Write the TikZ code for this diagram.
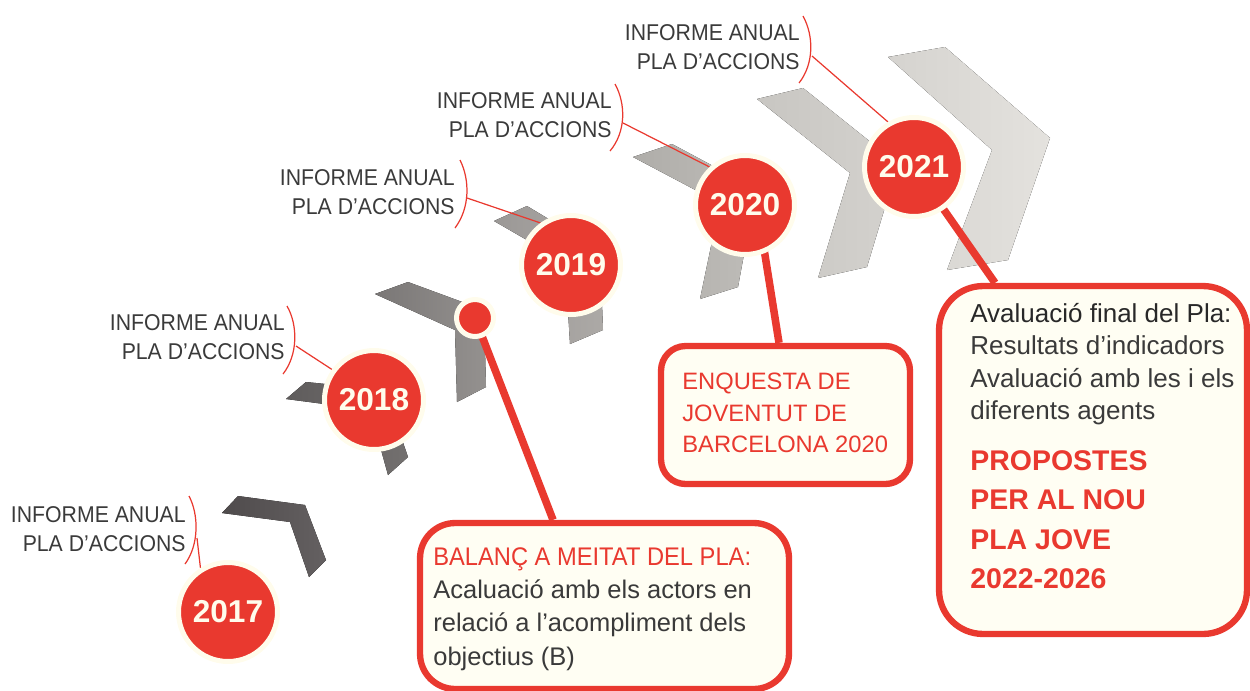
\documentclass[tikz,border=0pt]{standalone}
\usepackage{fontspec}
\setmainfont{Liberation Sans}
\newfontfamily\narrowfont[FakeStretch=0.93]{Liberation Sans}
\usetikzlibrary{backgrounds}
\definecolor{jred}{RGB}{233,57,47}
\definecolor{cream}{RGB}{255,252,236}
\definecolor{boxfill}{RGB}{255,254,243}
\definecolor{tgrey}{RGB}{58,58,58}
\definecolor{tdark}{RGB}{40,40,40}
\begin{document}
\begin{tikzpicture}[x=0.02cm,y=-0.02cm,
  yearc/.style={circle, fill=jred, draw=cream, line width=2.85pt, minimum size=1.98cm, inner sep=0pt, text=cream, font=\fontsize{18}{20}\selectfont\bfseries},
  dotc/.style={circle, fill=jred, draw=cream, line width=2.85pt, minimum size=0.74cm, inner sep=0pt},
  lbl/.style={anchor=east, align=right, inner sep=0pt, text=tgrey, font=\narrowfont\fontsize{13}{16.2}\selectfont},
  brk/.style={draw=jred, line width=0.7pt},
  leader/.style={draw=jred, line width=0.7pt},
  stem/.style={draw=jred, line width=4.3pt},
  infobox/.style={rectangle, draw=jred, fill=boxfill, line width=3.6pt, inner sep=0pt},
  boxtext/.style={anchor=north west, align=left, inner sep=0pt},
]
\useasboundingbox (0,0) rectangle (1250,690);
\clip (0,0) rectangle (1250,690);

% info boxes
\node[infobox, rounded corners=20pt, minimum width=7.38cm, minimum height=3.32cm] (b1) at (604.5,606) {};
\node[infobox, rounded corners=14pt, minimum width=4.98cm, minimum height=2.76cm] (b2) at (785.5,415) {};
\node[infobox, rounded corners=25pt, minimum width=6.16cm, minimum height=6.96cm] (b3) at (1093,460) {};

% year circles
\node[yearc] (c2017) at (228,612) {2017};
\node[yearc] (c2018) at (374,400) {2018};
\node[dotc]  (dot)   at (475,318) {};
\node[yearc] (c2019) at (571,265) {2019};
\node[yearc] (c2020) at (745,205) {2020};
\node[yearc] (c2021) at (914,167) {2021};

% labels
\node[lbl] (l2017) at (186,529) {INFORME ANUAL\\PLA D’ACCIONS};
\node[lbl] (l2018) at (285,337) {INFORME ANUAL\\PLA D’ACCIONS};
\node[lbl] (l2019) at (455,192) {INFORME ANUAL\\PLA D’ACCIONS};
\node[lbl] (l2020) at (612,115) {INFORME ANUAL\\PLA D’ACCIONS};
\node[lbl] (l2021) at (800,47) {INFORME ANUAL\\PLA D’ACCIONS};

% brackets
\draw[brk] (189,496) .. controls (199,515) and (199,545) .. (185,564);
\draw[brk] (287,306) .. controls (298,325) and (298,355) .. (283,374);
\draw[brk] (460,160) .. controls (470,180) and (470,208) .. (455,228);
\draw[brk] (615,84) .. controls (626,104) and (626,132) .. (610,151);
\draw[brk] (803,16) .. controls (814,36) and (814,64) .. (799,83);
\coordinate (k2017) at (197,538);
\coordinate (k2018) at (296,346);
\coordinate (k2019) at (467,198);
\coordinate (k2020) at (623,123);
\coordinate (k2021) at (812,56);

% box texts
\node[boxtext, font=\fontsize{14.5}{19}\selectfont, text=tgrey] (t1) at (433,547)
  {\textcolor{jred}{\narrowfont BALANÇ A MEITAT DEL PLA:}\\Acaluació amb els actors en\\relació a l’acompliment dels\\objectius (B)};
\node[boxtext, font=\fontsize{13.5}{17.9}\selectfont, text=jred] (t2) at (682,373)
  {ENQUESTA DE\\JOVENTUT DE\\BARCELONA 2020};
\node[boxtext, font=\fontsize{14.8}{18.4}\selectfont, text=tgrey] (t3) at (970,303)
  {\textcolor{tdark}{Avaluació final del Pla:}\\Resultats d’indicadors\\Avaluació amb les i els\\diferents agents};
\node[boxtext, font=\fontsize{16.2}{22.5}\selectfont\bfseries, text=jred] (t4) at (970,450)
  {PROPOSTES\\PER AL NOU\\PLA JOVE\\2022-2026};

\begin{scope}[on background layer]
  % chevrons
  \fill[left color={rgb,255:red,79;green,75;blue,76}, right color={rgb,255:red,100;green,96;blue,97}]
    (222,513) -- (238,496) -- (305,505) -- (326,560) -- (309,577) -- (290,522) -- cycle;
  \fill[left color={rgb,255:red,95;green,92;blue,92}, right color={rgb,255:red,115;green,112;blue,111}]
    (286,399) -- (306,382) -- (385,390) -- (408,457) -- (388,475) -- (370,410) -- cycle;
  \fill[left color={rgb,255:red,122;green,119;blue,118}, right color={rgb,255:red,148;green,145;blue,143}]
    (375,294) -- (408,282) -- (484,310) -- (486,387) -- (457,402) -- (455,330) -- cycle;
  \fill[left color={rgb,255:red,155;green,152;blue,150}, right color={rgb,255:red,172;green,169;blue,166}]
    (494,221) -- (527,206) -- (600,250) -- (603,330) -- (570,344) -- (565,262) -- cycle;
  \fill[left color={rgb,255:red,175;green,173;blue,169}, right color={rgb,255:red,190;green,188;blue,184}]
    (633,157) -- (672,144) -- (756,189) -- (738,287) -- (700,299) -- (720,203) -- cycle;
  \fill[left color={rgb,255:red,200;green,198;blue,194}, right color={rgb,255:red,212;green,210;blue,206}]
    (757,99) -- (803,88) -- (898,164) -- (867,267) -- (818,278) -- (850,173) -- cycle;
  \fill[left color={rgb,255:red,213;green,211;blue,207}, right color={rgb,255:red,228;green,226;blue,222}]
    (888,57) -- (945,47) -- (1050,138) -- (1008,260) -- (947,270) -- (992,150) -- cycle;
  % leaders
  \draw[leader] (k2017) -- (c2017.122.5);
  \draw[leader] (k2018) -- (c2018.144.5);
  \draw[leader] (k2019) -- (c2019.126);
  \draw[leader] (k2020) -- (c2020.133);
  \draw[leader] (k2021) -- (c2021.120);
  % stems
  \draw[stem] (dot.center) -- ([xshift=-1.03cm]b1.north);
  \draw[stem] ([xshift=0.24cm]c2020.center) -- ([xshift=-0.13cm]b2.north);
  \draw[stem] (c2021.center) -- ([xshift=-1.96cm]b3.north);
\end{scope}
\end{tikzpicture}
\end{document}
